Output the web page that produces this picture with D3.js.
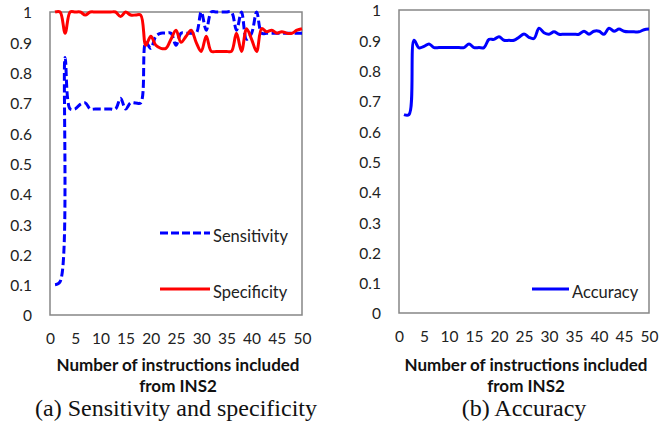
<!DOCTYPE html>
<html><head><meta charset="utf-8">
<script src="https://cdn.jsdelivr.net/npm/d3@7/dist/d3.min.js"></script>
<style>body{margin:0;background:#fff} svg{display:block}</style>
</head><body>
<svg id="c" width="659" height="432"></svg>
<script>
const instructions = [1,2,3,4,5,6,7,8,9,10,11,12,13,14,15,16,17,18,19,20,21,22,23,24,25,26,27,28,29,30,31,32,33,34,35,36,37,38,39,40,41,42,43,44,45,46,47,48,49,50];
const sensitivity = [0.10,0.11,0.85,0.68,0.68,0.695,0.70,0.68,0.68,0.68,0.68,0.68,0.68,0.715,0.68,0.70,0.70,0.70,0.90,0.88,0.92,0.93,0.93,0.93,0.89,0.93,0.93,0.93,0.93,1.00,0.94,1.00,1.00,1.00,1.00,1.00,0.94,1.00,0.91,0.93,1.00,0.93,0.93,0.93,0.93,0.93,0.93,0.93,0.93,0.93];
const specificity = [1.00,1.00,0.93,1.00,1.00,1.00,0.99,1.00,1.00,1.00,1.00,1.00,1.00,0.985,1.00,0.99,0.99,0.99,0.89,0.92,0.89,0.88,0.88,0.91,0.94,0.90,0.92,0.94,0.90,0.87,0.92,0.87,0.87,0.87,0.87,0.87,0.93,0.87,0.945,0.91,0.87,0.945,0.935,0.94,0.93,0.935,0.93,0.93,0.94,0.945];
const accuracy = [0.655,0.655,0.90,0.875,0.88,0.888,0.876,0.876,0.876,0.876,0.876,0.876,0.876,0.888,0.876,0.876,0.876,0.903,0.903,0.912,0.90,0.90,0.90,0.91,0.921,0.91,0.906,0.94,0.925,0.92,0.928,0.92,0.92,0.92,0.92,0.92,0.93,0.92,0.93,0.93,0.92,0.94,0.93,0.937,0.93,0.928,0.928,0.928,0.935,0.937];
const xTicks = [0,5,10,15,20,25,30,35,40,45,50];
const yTicks = [0,0.1,0.2,0.3,0.4,0.5,0.6,0.7,0.8,0.9,1];
const yTickLabels = ["0","0.1","0.2","0.3","0.4","0.5","0.6","0.7","0.8","0.9","1"];
const axisTitleLines = ["Number of instructions included","from INS2"];
const captions = ["(a) Sensitivity and specificity","(b) Accuracy"];
const seriesNames = ["Sensitivity","Specificity","Accuracy"];

const svg = d3.select("#c");
const sansFont = "Lato, 'Open Sans', sans-serif";
const serifFont = "'Liberation Serif', 'DejaVu Serif', serif";

function drawPanel(box, series, legendBox, caption) {
  const x = d3.scaleLinear().domain([0,50]).range([box.x0, box.x1]);
  const y = d3.scaleLinear().domain([0,1]).range([box.y1, box.y0]);
  const g = svg.append("g");

  const ya = g.append("g").attr("transform", `translate(${box.x0},0)`)
    .call(d3.axisLeft(y).tickValues(yTicks).tickFormat((d,i)=>yTickLabels[i]).tickSize(0).tickPadding(18));
  ya.select(".domain").remove();
  ya.selectAll("text").attr("font-family", sansFont).attr("font-size", 15.5).attr("fill", "#222")
    .attr("dy", null).attr("dominant-baseline", "middle").attr("transform", "translate(0,2)");

  const xa = g.append("g").attr("transform", `translate(0,${box.y1})`)
    .call(d3.axisBottom(x).tickValues(xTicks).tickSize(0));
  xa.select(".domain").remove();
  xa.selectAll("text").attr("font-family", sansFont).attr("font-size", 15.5).attr("fill", "#222")
    .attr("y", 25).attr("dy", null).attr("dominant-baseline", "middle");

  g.append("rect").attr("x", box.x0).attr("y", box.y0)
    .attr("width", box.x1 - box.x0).attr("height", box.y1 - box.y0)
    .attr("fill", "none").attr("stroke", "#868686").attr("stroke-width", 1.5);

  const line = d3.line().x((d,i)=>x(instructions[i])).y(d=>y(d)).curve(d3.curveCatmullRom.alpha(0.5));
  series.forEach(s => {
    g.append("path").attr("d", line(s.values)).attr("fill", "none")
      .attr("stroke", s.color).attr("stroke-width", 3)
      .attr("stroke-dasharray", s.dash || null).attr("stroke-linejoin", "round");
  });

  series.forEach((s, i) => {
    const ly = legendBox.ys[i];
    g.append("line").attr("x1", legendBox.x0).attr("x2", legendBox.x1).attr("y1", ly).attr("y2", ly)
      .attr("stroke", s.color).attr("stroke-width", 3).attr("stroke-dasharray", s.dash ? "8,3" : null);
    g.append("text").attr("x", legendBox.x1 + 3).attr("y", ly + 8.5)
      .attr("font-family", sansFont).attr("font-size", 16.5).attr("fill", "#222").text(s.name);
  });

  const cx = (box.x0 + box.x1) / 2;
  axisTitleLines.forEach((t, i) => {
    g.append("text").attr("x", cx + 2).attr("y", 371 + i * 21).attr("text-anchor", "middle")
      .attr("font-family", sansFont).attr("font-weight", "bold").attr("font-size", 17).attr("fill", "#111").text(t);
  });
  g.append("text").attr("x", cx).attr("y", 416).attr("text-anchor", "middle")
    .attr("font-family", serifFont).attr("font-size", 24).attr("fill", "#111").text(caption);
}

drawPanel({x0:50, x1:302, y0:12, y1:315},
  [{name: seriesNames[0], values: sensitivity, color: "#0000ff", dash: "8,3.5"},
   {name: seriesNames[1], values: specificity, color: "#ff0000"}],
  {x0:160, x1:210, ys:[233, 289]}, captions[0]);

drawPanel({x0:399, x1:649, y0:10, y1:313},
  [{name: seriesNames[2], values: accuracy, color: "#0000ff"}],
  {x0:532, x1:569, ys:[289]}, captions[1]);
</script>
</body></html>
